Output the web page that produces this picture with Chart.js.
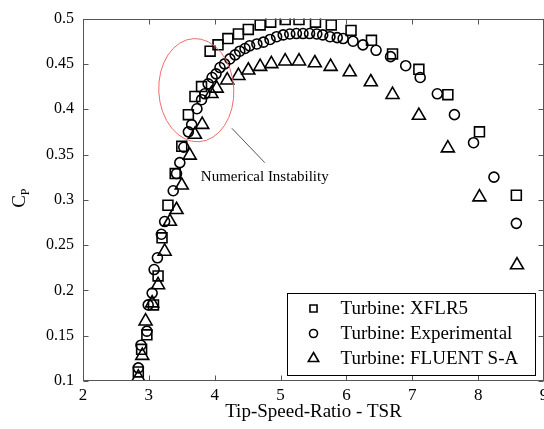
<!DOCTYPE html>
<html><head><meta charset="utf-8">
<script src="https://cdn.jsdelivr.net/npm/chart.js@4/dist/chart.umd.min.js"></script>
<style>html,body{margin:0;padding:0;overflow:hidden;background:#fff;width:544px;height:429px}</style>
</head><body>
<canvas id="c" width="560" height="429" style="display:block;width:560px;height:429px"></canvas>
<script>
const FONT = '"Liberation Serif", "Times New Roman", serif';

const xTickValues = [2, 3, 4, 5, 6, 7, 8, 9];
const xTickLabels = ['2', '3', '4', '5', '6', '7', '8', '9'];
const yTickValues = [0.1, 0.15, 0.2, 0.25, 0.3, 0.35, 0.4, 0.45, 0.5];
const yTickLabels = ['0.1', '0.15', '0.2', '0.25', '0.3', '0.35', '0.4', '0.45', '0.5'];

const seriesNames = ['Turbine: XFLR5', 'Turbine: Experimental', 'Turbine: FLUENT S-A'];

const tsrXflr = [2.84,2.89,2.97,3.07,3.14,3.20,3.29,3.40,3.50,3.60,3.70,3.80,3.93,4.05,4.20,4.36,4.51,4.69,4.85,5.07,5.28,5.53,5.77,6.07,6.38,6.70,7.10,7.54,8.02,8.58];
const cpXflr  = [0.110,0.135,0.151,0.184,0.216,0.258,0.294,0.329,0.359,0.394,0.414,0.425,0.464,0.471,0.478,0.483,0.488,0.493,0.496,0.499,0.499,0.496,0.493,0.487,0.476,0.461,0.444,0.416,0.375,0.305];

const tsrExp = [2.84,2.88,2.97,2.99,3.05,3.08,3.13,3.19,3.24,3.37,3.42,3.47,3.53,3.60,3.65,3.73,3.80,3.85,3.90,3.96,4.02,4.08,4.15,4.23,4.31,4.38,4.46,4.53,4.64,4.74,4.84,4.94,5.04,5.14,5.24,5.34,5.44,5.55,5.64,5.75,5.86,5.95,6.10,6.25,6.45,6.67,6.90,7.12,7.38,7.64,7.93,8.24,8.58];
const cpExp  = [0.1145,0.1395,0.155,0.184,0.197,0.223,0.236,0.262,0.276,0.310,0.329,0.341,0.358,0.375,0.383,0.4005,0.4105,0.417,0.428,0.435,0.439,0.446,0.450,0.4555,0.460,0.464,0.467,0.470,0.472,0.474,0.477,0.480,0.482,0.483,0.4835,0.4835,0.4835,0.483,0.482,0.480,0.479,0.478,0.475,0.471,0.465,0.458,0.448,0.435,0.417,0.394,0.363,0.325,0.274];

const tsrFluent = [2.84,2.90,2.95,3.05,3.14,3.24,3.32,3.42,3.50,3.62,3.70,3.81,3.95,4.03,4.19,4.36,4.51,4.69,4.86,5.07,5.28,5.52,5.76,6.05,6.37,6.70,7.10,7.54,8.02,8.59];
const cpFluent  = [0.104,0.128,0.166,0.186,0.206,0.243,0.276,0.289,0.316,0.349,0.372,0.383,0.417,0.423,0.432,0.437,0.443,0.447,0.450,0.453,0.453,0.451,0.447,0.441,0.430,0.416,0.393,0.357,0.303,0.228];

const annotationText = 'Numerical Instability';
const xTitle = 'Tip-Speed-Ratio - TSR';

function pts(xs, ys) { return xs.map((x, i) => ({ x: x, y: ys[i] })); }

function drawMarker(ctx, style, r, x, y) {
  ctx.beginPath();
  if (style === 'rect') {
    const s = Math.SQRT1_2 * r;
    ctx.rect(x - s, y - s, 2 * s, 2 * s);
  } else if (style === 'circle') {
    ctx.arc(x, y, r, 0, Math.PI * 2);
  } else {
    const a = -Math.PI / 2;
    for (let k = 0; k < 3; k++) {
      const t = a + k * 2 * Math.PI / 3;
      const px = x + Math.cos(t) * r, py = y + Math.sin(t) * r;
      if (k === 0) ctx.moveTo(px, py); else ctx.lineTo(px, py);
    }
    ctx.closePath();
  }
  ctx.stroke();
}

const styles = ['rect', 'circle', 'triangle'];

const framePlugin = {
  id: 'frame',
  afterDraw(chart) {
    const { ctx, chartArea: a, scales: { x, y } } = chart;
    ctx.save();
    ctx.strokeStyle = '#555';
    ctx.lineWidth = 1;
    const L = Math.round(a.left) + 0.5, R = Math.round(a.right) - 0.5;
    const T = Math.round(a.top) + 0.5, B = Math.round(a.bottom) - 0.5;
    ctx.strokeRect(L, T, R - L, B - T);
    const tl = 5;
    ctx.beginPath();
    xTickValues.forEach(v => {
      const p = Math.round(x.getPixelForValue(v)) + 0.5;
      ctx.moveTo(p, B); ctx.lineTo(p, B - tl);
      ctx.moveTo(p, T); ctx.lineTo(p, T + tl);
    });
    yTickValues.forEach(v => {
      const p = Math.round(y.getPixelForValue(v)) + 0.5;
      ctx.moveTo(L, p); ctx.lineTo(L + tl, p);
      ctx.moveTo(R, p); ctx.lineTo(R - tl, p);
    });
    ctx.stroke();

    // y-axis title C_P
    ctx.fillStyle = '#000';
    ctx.translate(19, (a.top + a.bottom) / 2 + 8);
    ctx.rotate(-Math.PI / 2);
    ctx.textBaseline = 'alphabetic';
    ctx.textAlign = 'left';
    ctx.font = '19px ' + FONT;
    ctx.fillText('C', 0, 6);
    const cw = ctx.measureText('C').width;
    ctx.font = '12px ' + FONT;
    ctx.fillText('P', cw, 10);
    ctx.restore();
  }
};

const annotationPlugin = {
  id: 'instability',
  afterDatasetsDraw(chart) {
    const { ctx, scales: { x, y } } = chart;
    ctx.save();
    const cx = x.getPixelForValue(3.72), cy = y.getPixelForValue(0.421);
    const rx = x.getPixelForValue(3.72 + 0.57) - cx;
    const ry = cy - y.getPixelForValue(0.421 + 0.057);
    ctx.strokeStyle = '#f26a6a';
    ctx.lineWidth = 1;
    ctx.beginPath();
    ctx.ellipse(cx, cy, rx, ry, -0.05, 0, Math.PI * 2);
    ctx.stroke();
    ctx.strokeStyle = '#555';
    ctx.beginPath();
    ctx.moveTo(x.getPixelForValue(4.26), y.getPixelForValue(0.379));
    ctx.lineTo(x.getPixelForValue(4.76), y.getPixelForValue(0.341));
    ctx.stroke();
    ctx.fillStyle = '#000';
    ctx.font = '15px ' + FONT;
    ctx.textAlign = 'center';
    ctx.textBaseline = 'middle';
    ctx.fillText(annotationText, x.getPixelForValue(4.76), y.getPixelForValue(0.325));
    ctx.restore();
  }
};

const legendPlugin = {
  id: 'boxLegend',
  afterDraw(chart) {
    const { ctx, chartArea: a } = chart;
    const w = 248, h = 82;
    const left = Math.round(a.right - 9 - w) + 0.5, top = Math.round(a.bottom - 6 - h) + 0.5;
    ctx.save();
    ctx.fillStyle = '#fff';
    ctx.fillRect(left, top, w, h);
    ctx.strokeStyle = '#000';
    ctx.lineWidth = 1;
    ctx.strokeRect(left, top, w, h);
    const radii = [5, 4, 6];
    ctx.font = '19px ' + FONT;
    ctx.textBaseline = 'middle';
    ctx.textAlign = 'left';
    seriesNames.forEach((name, i) => {
      const yy = top + 15 + i * 25;
      ctx.strokeStyle = '#000';
      ctx.lineWidth = 1.6;
      drawMarker(ctx, styles[i], radii[i], left + 26, yy);
      ctx.fillStyle = '#000';
      ctx.fillText(name, left + 53, yy + 1);
    });
    ctx.restore();
  }
};

const common = { showLine: false, borderColor: '#000', backgroundColor: 'rgba(0,0,0,0)', borderWidth: 1.6, pointBorderWidth: 1.6 };

new Chart(document.getElementById('c'), {
  type: 'scatter',
  data: {
    datasets: [
      Object.assign({ label: seriesNames[0], data: pts(tsrXflr, cpXflr), pointStyle: 'rect', pointRadius: 7 }, common),
      Object.assign({ label: seriesNames[1], data: pts(tsrExp, cpExp), pointStyle: 'circle', pointRadius: 5 }, common),
      Object.assign({ label: seriesNames[2], data: pts(tsrFluent, cpFluent), pointStyle: 'triangle', pointRadius: 7.5 }, common)
    ]
  },
  options: {
    responsive: false,
    animation: false,
    devicePixelRatio: 1,
    layout: { padding: { top: 17, right: 16, left: 0, bottom: 0 } },
    plugins: { legend: { display: false }, tooltip: { enabled: false } },
    elements: { point: { hoverRadius: 0 } },
    scales: {
      x: {
        type: 'linear', position: 'bottom', min: 2, max: 9,
        afterBuildTicks: s => { s.ticks = xTickValues.map(v => ({ value: v })); },
        afterFit: s => { s.height = 48; },
        ticks: { color: '#000', font: { family: FONT, size: 17 }, padding: 4,
                 callback: (v) => xTickLabels[xTickValues.indexOf(v)] },
        grid: { display: false, drawTicks: false },
        border: { display: false },
        title: { display: true, text: xTitle, color: '#000', font: { family: FONT, size: 19 }, padding: { top: 0, bottom: 6 } }
      },
      y: {
        type: 'linear', min: 0.1, max: 0.5,
        afterBuildTicks: s => { s.ticks = yTickValues.map(v => ({ value: v })); },
        afterFit: s => { s.width = 83; },
        ticks: { color: '#000', font: { family: FONT, size: 16 }, padding: 9,
                 callback: (v) => yTickLabels[yTickValues.findIndex(t => Math.abs(t - v) < 1e-9)] },
        grid: { display: false, drawTicks: false },
        border: { display: false }
      }
    }
  },
  plugins: [annotationPlugin, framePlugin, legendPlugin]
});
</script>
</body></html>
